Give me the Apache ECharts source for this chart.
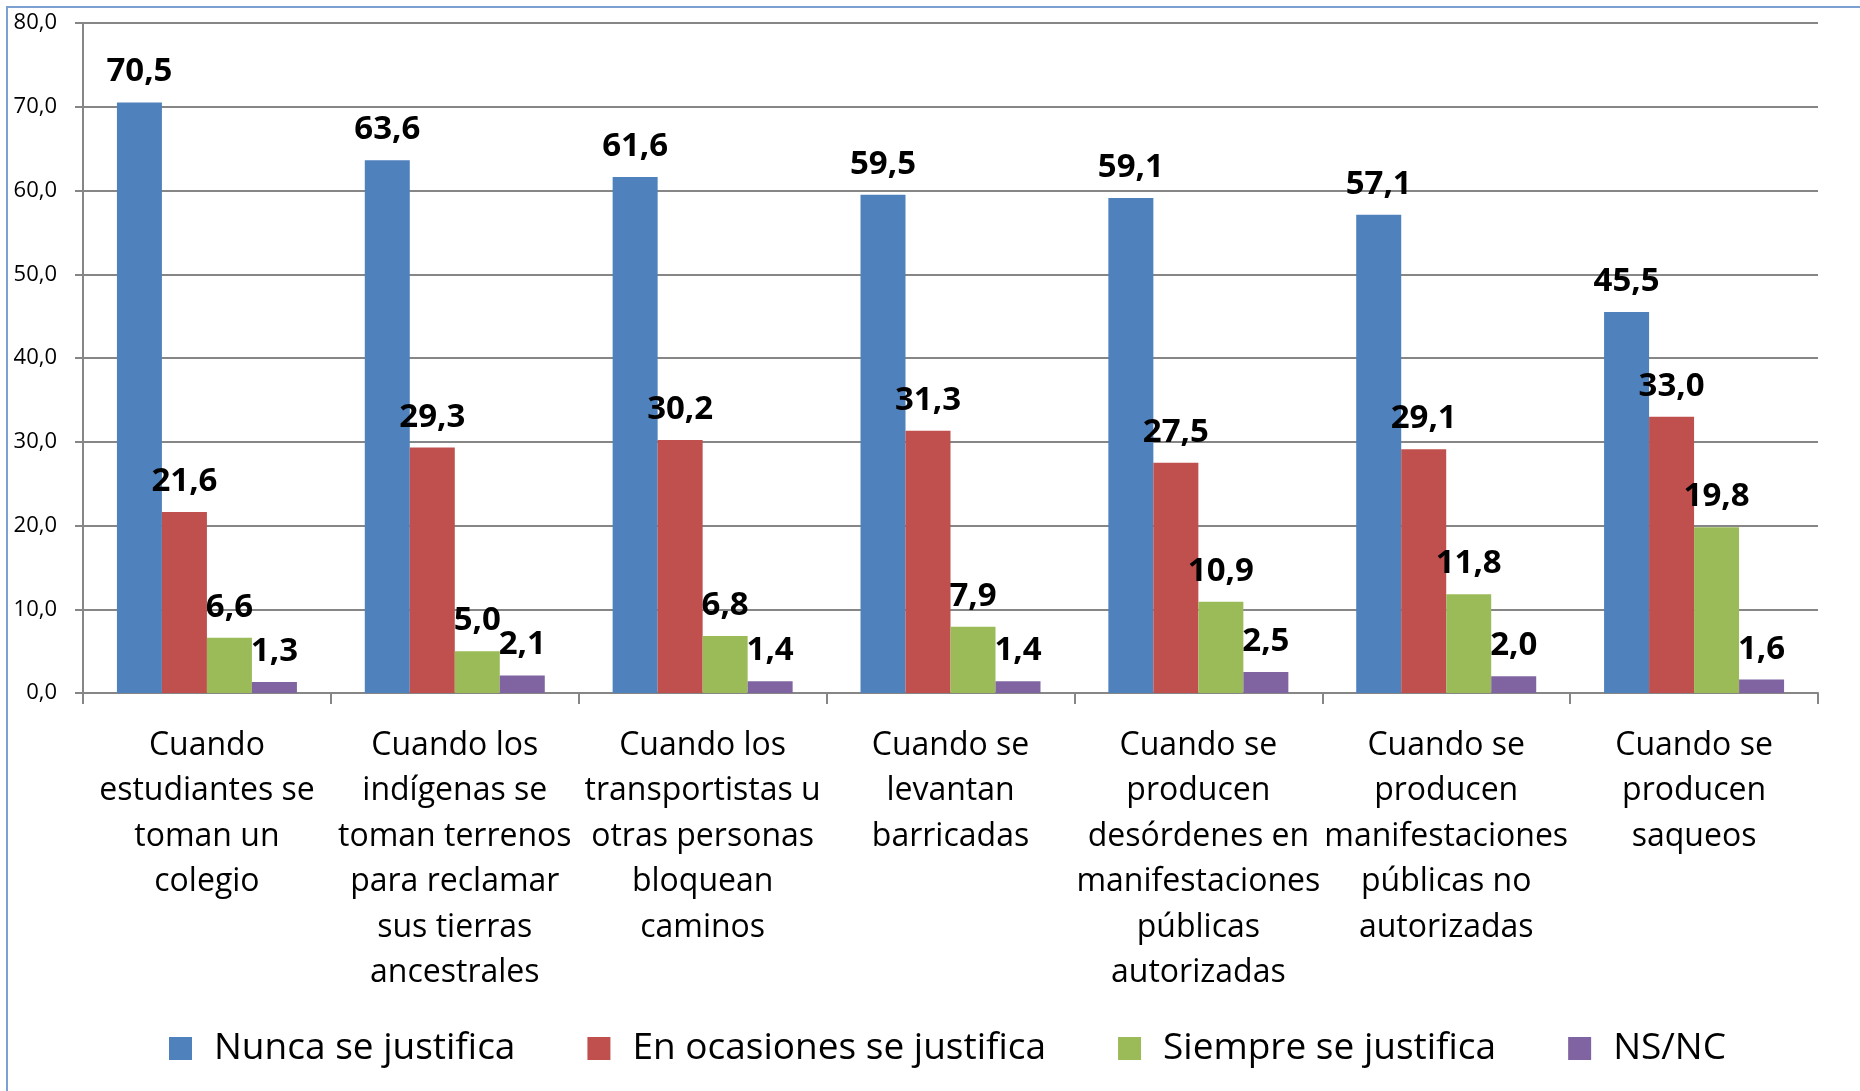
<!DOCTYPE html>
<html>
<head>
<meta charset="utf-8">
<script src="https://cdn.jsdelivr.net/npm/echarts@6/dist/echarts.min.js"></script>
<style>
  html, body { margin: 0; padding: 0; background: #fff; }
  #chart { width: 1860px; height: 1091px; }
</style>
</head>
<body>
<div id="chart"></div>
<script>
var categories = [
    'Cuando\nestudiantes se\ntoman un\ncolegio',
    'Cuando los\nindígenas se\ntoman terrenos\npara reclamar\nsus tierras\nancestrales',
    'Cuando los\ntransportistas u\notras personas\nbloquean\ncaminos',
    'Cuando se\nlevantan\nbarricadas',
    'Cuando se\nproducen\ndesórdenes en\nmanifestaciones\npúblicas\nautorizadas',
    'Cuando se\nproducen\nmanifestaciones\npúblicas no\nautorizadas',
    'Cuando se\nproducen\nsaqueos'
];
var seriesNames = ['Nunca se justifica', 'En ocasiones se justifica', 'Siempre se justifica', 'NS/NC'];
var nunca = [70.5, 63.6, 61.6, 59.5, 59.1, 57.1, 45.5];
var ocasiones = [21.6, 29.3, 30.2, 31.3, 27.5, 29.1, 33.0];
var siempre = [6.6, 5.0, 6.8, 7.9, 10.9, 11.8, 19.8];
var nsnc = [1.3, 2.1, 1.4, 1.4, 2.5, 2.0, 1.6];
var colors = ['#4F81BD', '#C0504D', '#9BBB59', '#8064A2'];

var fontFamily = '"Open Sans", "Noto Sans", sans-serif';

function fmt(v) {
    return v.toFixed(1).replace('.', ',');
}

function makeSeries(name, data, color) {
    return {
        name: name,
        type: 'bar',
        data: data,
        barWidth: 45,
        barGap: '0%',
        itemStyle: { color: color },
        label: {
            show: true,
            position: 'top',
            distance: 14,
            fontFamily: fontFamily,
            fontWeight: 'bold',
            fontSize: 33,
            color: '#000',
            formatter: function (p) { return fmt(p.value); }
        }
    };
}

var myChart = echarts.init(document.getElementById('chart'));
var option = {
    backgroundColor: '#fff',
    animation: false,
    color: colors,
    textStyle: { fontFamily: fontFamily },
    graphic: [
        {
            type: 'rect',
            shape: { x: 7, y: 7, width: 1900, height: 1200 },
            style: { fill: 'none', stroke: '#7DA0D2', lineWidth: 2 },
            z: 100
        }
    ],
    grid: { left: 83, right: 42, top: 23, bottom: 398, containLabel: false },
    legend: {
        left: 164,
        top: 1025,
        itemWidth: 23,
        itemHeight: 23,
        itemGap: 72,
        icon: 'rect',
        textStyle: {
            fontFamily: fontFamily,
            fontSize: 37,
            color: '#000',
            padding: [0, 0, 0, 17]
        },
        data: seriesNames
    },
    xAxis: {
        type: 'category',
        data: categories,
        axisLine: { lineStyle: { color: '#868686', width: 2 } },
        axisTick: { show: true, length: 11, lineStyle: { color: '#868686', width: 2 } },
        axisLabel: {
            interval: 0,
            margin: 30,
            fontFamily: fontFamily,
            fontSize: 32,
            lineHeight: 45.5,
            color: '#000',
            align: 'center'
        }
    },
    yAxis: {
        type: 'value',
        min: 0,
        max: 80,
        interval: 10,
        axisLine: { show: true, lineStyle: { color: '#868686', width: 2 } },
        axisTick: { show: true, length: 8, lineStyle: { color: '#868686', width: 2 } },
        splitLine: { lineStyle: { color: '#868686', width: 2 } },
        axisLabel: {
            margin: 26,
            fontFamily: fontFamily,
            fontSize: 22,
            color: '#000',
            formatter: function (v) { return fmt(v); }
        }
    },
    series: [
        makeSeries(seriesNames[0], nunca, colors[0]),
        makeSeries(seriesNames[1], ocasiones, colors[1]),
        makeSeries(seriesNames[2], siempre, colors[2]),
        makeSeries(seriesNames[3], nsnc, colors[3])
    ]
};
option && myChart.setOption(option);
</script>
</body>
</html>
